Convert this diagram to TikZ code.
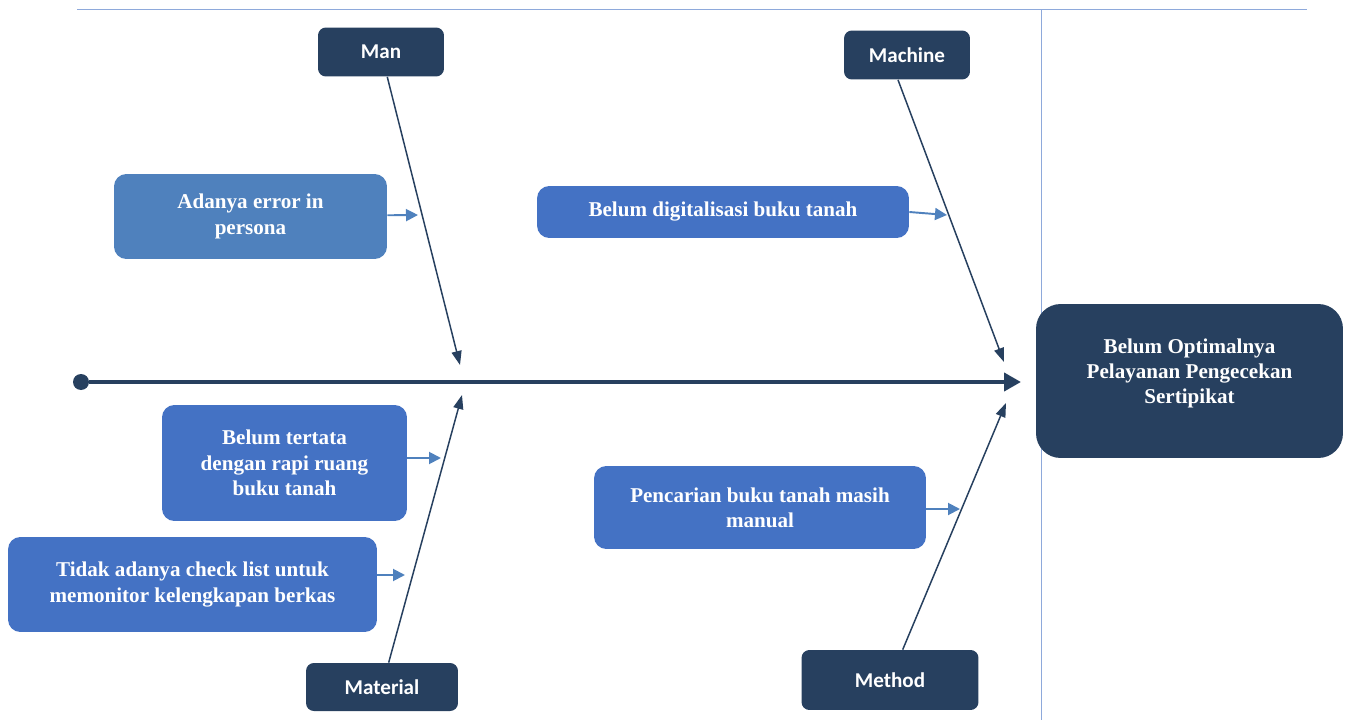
\documentclass[tikz,border=0pt]{standalone}
\usepackage{fontspec}
\setmainfont{Liberation Serif}
\setsansfont{Carlito}
\usetikzlibrary{arrows.meta}
\definecolor{navy}{HTML}{27405F}
\definecolor{causeblue}{HTML}{4472C4}
\definecolor{steel}{HTML}{4F81BD}
\definecolor{rulegray}{HTML}{8EA9DB}

\begin{document}
\begin{tikzpicture}[x=0.02cm, y=-0.02cm,
    cat/.style={fill=navy, rounded corners=4.5pt, text=white,
                font=\sffamily\bfseries\fontsize{12}{14}\selectfont},
    cause/.style={fill=causeblue, rounded corners=7pt, text=white, align=center,
                  font=\bfseries\fontsize{12}{14.4}\selectfont},
    effect/.style={fill=navy, rounded corners=14pt, text=white, align=center,
                   text depth=0.4cm, font=\bfseries\fontsize{12}{14.4}\selectfont},
    bone/.style={-{Triangle[length=0.28cm,width=0.2cm]}, draw=navy, line width=0.85pt},
    spine/.style={-{Triangle[length=0.34cm,width=0.36cm]}, draw=navy, line width=2.3pt},
    causeedge/.style={-{Triangle[length=0.24cm,width=0.24cm]}, draw=steel, line width=1.1pt},
    frame/.style={draw=rulegray, line width=0.5pt}
]
\useasboundingbox (0,0) rectangle (1347,720);

\draw[frame] (77,9) -- (1307,9);
\draw[frame] (1041,9) -- (1041,720);

\node[cat, minimum width=2.52cm, minimum height=0.98cm] (man)      at (381,52)  {Man};
\node[cat, minimum width=2.52cm, minimum height=0.98cm] (machine)  at (907,55)  {Machine};
\node[cat, minimum width=3.04cm, minimum height=0.96cm] (material) at (382,687) {Material};
\node[cat, minimum width=3.54cm, minimum height=1.2cm]  (method)   at (890,680) {Method};

\node[effect, minimum width=6.14cm, minimum height=3.08cm] (effect) at (1189.5,381)
    {Belum Optimalnya\\Pelayanan Pengecekan\\Sertipikat};

\node[cause, fill=steel, minimum width=5.46cm, minimum height=1.7cm] (persona) at (250.5,216.5)
    {Adanya error in\\persona};
\node[cause, minimum width=7.44cm, minimum height=1.04cm] (digital) at (723,212)
    {Belum digitalisasi buku tanah};
\node[cause, minimum width=4.9cm, minimum height=2.32cm] (tertata) at (284.5,463)
    {Belum tertata\\dengan rapi ruang\\buku tanah};
\node[cause, minimum width=7.38cm, minimum height=1.9cm] (checklist) at (192.5,584.5)
    {Tidak adanya check list untuk\\memonitor kelengkapan berkas};
\node[cause, minimum width=6.64cm, minimum height=1.66cm] (manual) at (760,507.5)
    {Pencarian buku tanah masih\\manual};

\node[circle, fill=navy, inner sep=0pt, minimum size=0.32cm] (tail) at (81,382) {};
\coordinate (head) at (1021,382);
\draw[spine] (tail) -- (head);

\coordinate (manend)      at (460,365);
\coordinate (machineend)  at (1004,362);
\coordinate (materialend) at (462,395);
\coordinate (methodend)   at (1006,403);

\draw[bone] (man) -- (manend);
\draw[bone] ([xshift=-0.18cm]machine.south) -- (machineend);
\draw[bone] (material) -- (materialend);
\draw[bone] (method) -- (methodend);

\coordinate (p1) at (418,215);
\coordinate (p2) at (947,215);
\coordinate (p3) at (441,458);
\coordinate (p4) at (405,575);
\coordinate (p5) at (960,509);

\draw[causeedge] (persona) -- (p1);
\draw[causeedge] (digital.east) -- (p2);
\draw[causeedge] (tertata.east |- p3) -- (p3);
\draw[causeedge] (checklist.east |- p4) -- (p4);
\draw[causeedge] (manual.east |- p5) -- (p5);

\end{tikzpicture}
\end{document}
